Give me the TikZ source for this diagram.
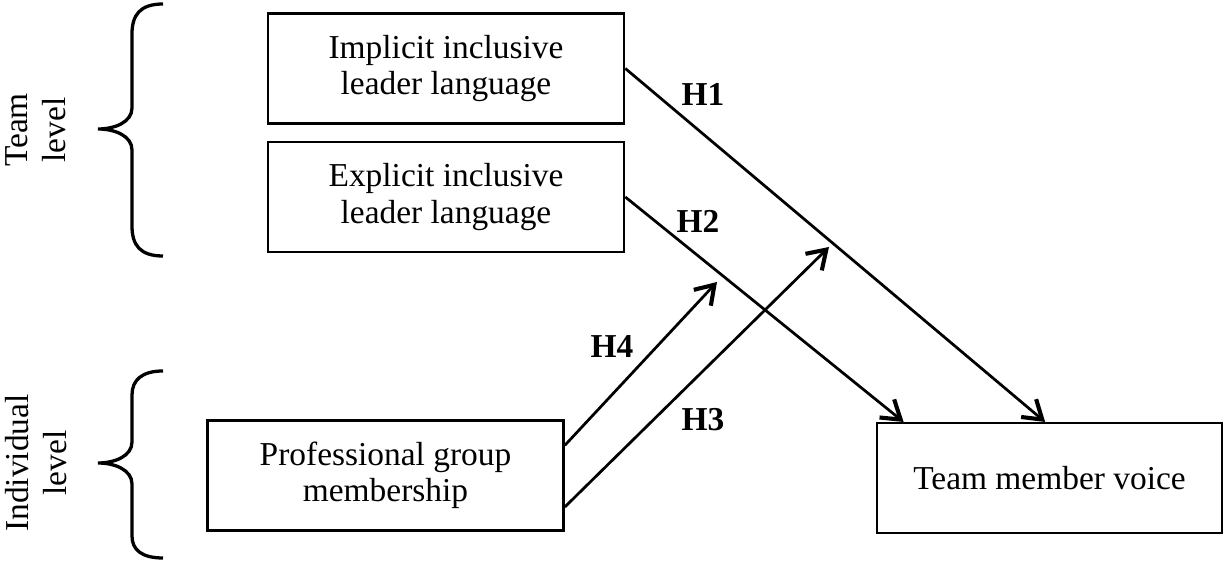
\documentclass[tikz,border=0pt]{standalone}
\usepackage{fontspec}
\setmainfont{Liberation Serif}
\usetikzlibrary{arrows.meta, calc, positioning}

\begin{document}
\begin{tikzpicture}[
  x=0.365pt, y=-0.365pt,
  >={Straight Barb[length=6.5pt,width=8.5pt,line width=1.5pt]},
  box/.style={draw, line width=0.9pt, minimum width=130pt, minimum height=40pt,
              inner sep=0pt, align=center, font=\fontsize{12.2}{13.2}\selectfont},
  lvl/.style={rotate=90, align=center, font=\fontsize{12.2}{14}\selectfont},
  hyp/.style={font=\fontsize{12.2}{14}\selectfont\bfseries},
  arr/.style={->, line width=1pt},
  brc/.style={line width=1.2pt},
]
\useasboundingbox (0,0) rectangle (1230,561);
% Team level constructs
\node[box] (imp) at (446,68.5) {Implicit inclusive\\leader language};
\node[box] (exp) at (446,197)  {Explicit inclusive\\leader language};
% Individual level and outcome
\node[box] (pro) at (385.5,475.5) {Professional group\\membership};
\node[box, minimum width=126pt] (tmv) at (1049.5,478) {Team member voice};
% Level labels and braces
\node[lvl] (tl) at (36,130) {Team\\level};
\node[lvl] (il) at (36,463) {Individual\\level};
\draw[brc] (163,4) .. controls (140,4) and (132,15) .. (132,34) -- (132,108)
  .. controls (132,122) and (115,129) .. (98,129)
  .. controls (115,129) and (132,136) .. (132,150) -- (132,226)
  .. controls (132,245) and (140,256) .. (163,256);
\draw[brc] (163,371) .. controls (142,371) and (132,380) .. (132,395) -- (132,442)
  .. controls (132,456) and (115,463) .. (98,463)
  .. controls (115,463) and (132,470) .. (132,484) -- (132,536)
  .. controls (132,550) and (142,558) .. (163,558);
% Direct effects
\draw[arr] (imp.east) -- ([xshift=-1.6pt]tmv.north);
\draw[arr] (exp.east) -- ([xshift=10.2pt]tmv.north west);
% Moderation (pointing at the paths)
\coordinate (m1) at (829,247);
\coordinate (m2) at (717,282);
\draw[arr] ([yshift=11pt]pro.east) -- (m2);
\draw[arr] ([yshift=-11.5pt]pro.east) -- (m1);
% Hypothesis labels
\node[hyp] (h1) at (703,94)  {H1};
\node[hyp] (h2) at (698,221) {H2};
\node[hyp] (h3) at (703,420) {H3};
\node[hyp] (h4) at (612,347) {H4};
\end{tikzpicture}
\end{document}
